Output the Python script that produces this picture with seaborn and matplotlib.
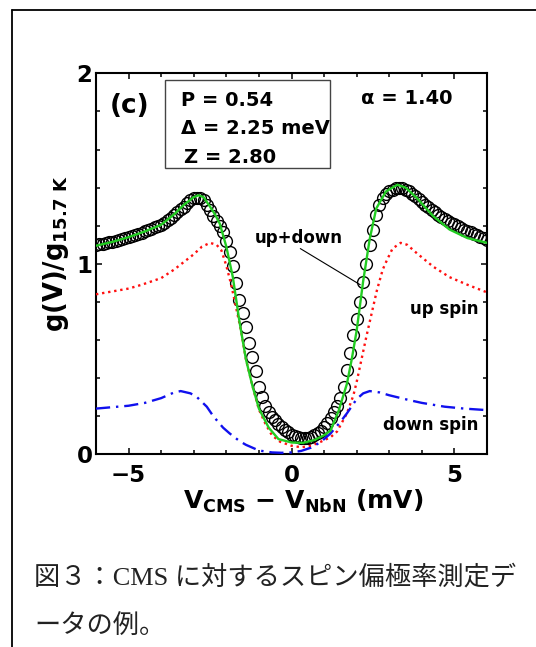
import numpy as np
import matplotlib
matplotlib.use("Agg")
import matplotlib.pyplot as plt
import seaborn as sns
from matplotlib.lines import Line2D
from matplotlib.patches import Rectangle
from matplotlib.ticker import MultipleLocator

# measured g(V)/g(15.7 K), sampled every 0.1 mV from -6 to 6 mV
bias_mv = np.linspace(-6.0, 6.0, 121)
g_measured = [
    1.100, 1.103, 1.106, 1.109, 1.112, 1.115, 1.120, 1.125, 1.130, 1.135,
    1.140, 1.146, 1.152, 1.158, 1.164, 1.170, 1.177, 1.184, 1.191, 1.198,
    1.205, 1.215, 1.228, 1.242, 1.258, 1.272, 1.286, 1.300, 1.318, 1.333,
    1.343, 1.348, 1.345, 1.335, 1.310, 1.280, 1.250, 1.225, 1.200, 1.165,
    1.120, 1.060, 0.990, 0.900, 0.810, 0.740, 0.670, 0.585, 0.510, 0.435,
    0.355, 0.300, 0.255, 0.222, 0.198, 0.178, 0.160, 0.145, 0.130, 0.116,
    0.104, 0.095, 0.089, 0.085, 0.084, 0.087, 0.093, 0.100, 0.110, 0.125,
    0.142, 0.163, 0.190, 0.220, 0.255, 0.295, 0.355, 0.440, 0.530, 0.625,
    0.710, 0.800, 0.905, 1.000, 1.100, 1.180, 1.255, 1.310, 1.345, 1.365,
    1.380, 1.390, 1.398, 1.400, 1.397, 1.390, 1.380, 1.368, 1.355, 1.340,
    1.325, 1.310, 1.296, 1.283, 1.270, 1.258, 1.246, 1.235, 1.225, 1.216,
    1.207, 1.198, 1.189, 1.180, 1.172, 1.165, 1.157, 1.150, 1.140, 1.133,
    1.127,
]

# fit: up+down
fit_x = [-6.0, -5.5, -5.0, -4.5, -4.0, -3.6, -3.3, -3.0, -2.85, -2.7, -2.5,
         -2.35, -2.2, -2.0, -1.8, -1.6, -1.4, -1.2, -1.0, -0.7, -0.4, 0.0,
         0.35, 0.7, 1.0, 1.2, 1.45, 1.7, 1.85, 2.0, 2.2, 2.4, 2.6, 2.9, 3.25,
         3.5, 3.85, 4.35, 4.85, 5.4, 6.0]
fit_total = [1.095, 1.115, 1.14, 1.17, 1.205, 1.26, 1.31, 1.35, 1.36, 1.35, 1.30,
             1.26, 1.21, 1.09, 0.93, 0.70, 0.50, 0.36, 0.24, 0.14, 0.08, 0.062,
             0.06, 0.075, 0.10, 0.125, 0.23, 0.37, 0.50, 0.65, 0.91, 1.13, 1.29, 1.38, 1.415,
             1.40, 1.345, 1.25, 1.18, 1.135, 1.11]

# fit: up spin
up_x = [-6.0, -5.5, -5.0, -4.6, -4.0, -3.6, -3.3, -3.0, -2.75, -2.5, -2.3,
        -2.15, -2.0, -1.85, -1.7, -1.55, -1.4, -1.2, -1.0, -0.8, -0.6, -0.35,
        0.0, 0.3, 0.6, 0.9, 1.2, 1.4, 1.7, 1.9, 2.0, 2.15, 2.3, 2.5, 2.62, 2.8,
        2.93, 3.1, 3.35, 3.55, 3.85, 4.35, 4.85, 5.4, 6.0]
up_spin = [0.84, 0.855, 0.87, 0.89, 0.925, 0.97, 1.01, 1.05, 1.09, 1.11, 1.10,
           1.07, 0.99, 0.89, 0.77, 0.65, 0.50, 0.36, 0.235, 0.16, 0.10, 0.066,
           0.045, 0.037, 0.045, 0.066, 0.09, 0.12, 0.215, 0.31, 0.38, 0.50, 0.62, 0.77, 0.86, 0.97,
           1.02, 1.08, 1.11, 1.10, 1.055, 0.985, 0.93, 0.89, 0.85]

# fit: down spin
down_x = [-6.0, -5.0, -4.5, -4.0, -3.6, -3.4, -3.1, -2.9, -2.6, -2.4, -2.1,
          -1.9, -1.6, -1.4, -1.0, -0.6, -0.3, 0.0, 0.3, 0.6, 0.9, 1.2, 1.5,
          1.7, 2.0, 2.2, 2.4, 2.7, 3.0, 3.6, 4.0, 4.7, 5.3, 6.0]
down_spin = [0.24, 0.255, 0.27, 0.295, 0.325, 0.332, 0.32, 0.30, 0.25, 0.20, 0.14,
             0.11, 0.07, 0.05, 0.02, 0.01, 0.008, 0.01, 0.018, 0.035, 0.065, 0.11, 0.17,
             0.215, 0.29, 0.32, 0.332, 0.325, 0.31, 0.285, 0.27, 0.25, 0.24, 0.232]

sns.set_theme(style="ticks")
plt.rcParams["font.family"] = ["DejaVu Sans"]
plt.rcParams["font.weight"] = "bold"
plt.rcParams["mathtext.fontset"] = "dejavusans"
for key in ["text.color", "axes.labelcolor", "xtick.color", "ytick.color", "axes.edgecolor"]:
    plt.rcParams[key] = "black"

fig = plt.figure(figsize=(5.36, 6.47), dpi=100)
ax = fig.add_axes([0.1791, 0.2978, 0.7295, 0.5889])

sns.lineplot(x=bias_mv, y=g_measured, ax=ax, errorbar=None, linestyle="",
             marker="o", markersize=8.5, markerfacecolor="none",
             markeredgecolor="black", markeredgewidth=1.0, color="black", zorder=2)
sns.lineplot(x=up_x, y=up_spin, ax=ax, errorbar=None, color="#ff1010",
             linestyle=(0, (1, 1.6)), linewidth=1.7, zorder=3)
sns.lineplot(x=down_x, y=down_spin, ax=ax, errorbar=None, color="#1010ee",
             linestyle=(0, (6, 2.5, 1, 2.5)), linewidth=1.7, zorder=3)
sns.lineplot(x=fit_x, y=fit_total, ax=ax, errorbar=None, color="#22cc22",
             linewidth=1.7, zorder=4)

ax.set_xlim(-6, 6)
ax.set_ylim(0, 2)
ax.xaxis.set_major_locator(MultipleLocator(5))
ax.xaxis.set_minor_locator(MultipleLocator(1))
ax.yaxis.set_major_locator(MultipleLocator(1))
ax.yaxis.set_minor_locator(MultipleLocator(0.2))
ax.tick_params(which="both", direction="in", top=True, right=True,
               width=1.1, color="black")
ax.tick_params(which="major", length=4.0)
ax.tick_params(which="minor", length=3.0)
ax.tick_params(axis="x", which="major", pad=7, labelsize=16.5, labelcolor="black")
ax.tick_params(axis="y", which="major", pad=2.5, labelsize=16.5, labelcolor="black")
for lab in ax.get_xticklabels() + ax.get_yticklabels():
    lab.set_fontweight("bold")
for sp in ax.spines.values():
    sp.set_linewidth(1.5)
    sp.set_color("black")

ax.set_xlabel(r"V$_{\mathbf{CMS}}$ − V$_{\mathbf{NbN}}$ (mV)", fontsize=18,
              fontweight="bold", color="black")
ax.set_ylabel(r"g(V)/g$_{\mathbf{15.7\ K}}$", fontsize=18.5, fontweight="bold", color="black")
ax.xaxis.set_label_coords(0.53, -0.088)
ax.yaxis.set_label_coords(-0.064, 0.526)

# parameter box
ax.add_patch(Rectangle((0.1765, 0.751), 0.4215, 0.231, transform=ax.transAxes,
                       fill=False, edgecolor="#444444", linewidth=1.0, zorder=5))
box_kw = dict(transform=ax.transAxes, fontsize=14, fontweight="bold", va="center",
              ha="left", color="black")
ax.text(0.217, 0.928, "P = 0.54", **box_kw)
ax.text(0.217, 0.854, "Δ = 2.25 meV", **box_kw)
ax.text(0.225, 0.780, "Z = 2.80", **box_kw)
ax.text(0.913, 0.934, "α = 1.40", transform=ax.transAxes, fontsize=14,
        fontweight="bold", va="center", ha="right", color="black")
ax.text(0.034, 0.915, "(c)", transform=ax.transAxes, fontsize=19,
        fontweight="bold", va="center", ha="left", color="black")

ax.annotate("", xy=(2.11, 0.89), xytext=(0.27, 1.08),
            arrowprops=dict(arrowstyle="-", color="black", lw=0.8, shrinkA=0, shrinkB=0))
ax.text(-1.14, 1.111, "up+down", fontsize=12, fontweight="bold", ha="left",
        va="baseline", color="black")
ax.text(5.745, 0.735, "up spin", fontsize=12, fontweight="bold", ha="right",
        va="baseline", color="black")
ax.text(5.745, 0.128, "down spin", fontsize=12, fontweight="bold", ha="right",
        va="baseline", color="black")

# page frame and caption
fig.add_artist(Line2D([12 / 536, 12 / 536], [0, 1 - 10 / 647], transform=fig.transFigure,
                      color="black", linewidth=1.3))
fig.add_artist(Line2D([12 / 536, 1], [1 - 10 / 647, 1 - 10 / 647], transform=fig.transFigure,
                      color="black", linewidth=1.3))
cap_family = ["Liberation Serif", "Noto Sans CJK JP"]
fig.text(34 / 536, 1 - 577 / 647, "図３：CMS に対するスピン偏極率測定デ",
         family=cap_family, fontsize=18.9, fontweight="normal", va="center", ha="left",
         color="#222222")
fig.text(34 / 536, 1 - 627 / 647, "ータの例。",
         family=cap_family, fontsize=18.9, fontweight="normal", va="center", ha="left",
         color="#222222")

fig.savefig("out.png", dpi=100)
